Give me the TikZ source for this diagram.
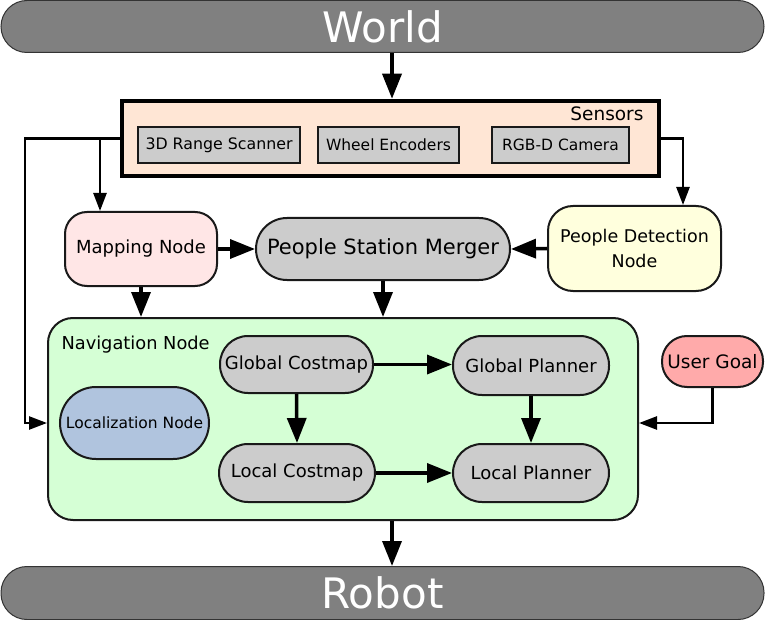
\documentclass[tikz,border=0pt]{standalone}
\usepackage{fontspec}
\setmainfont{DejaVu Sans}
\usetikzlibrary{arrows.meta}
\definecolor{barfill}{HTML}{808080}
\definecolor{sensorfill}{HTML}{FFE6D5}
\definecolor{boxgray}{HTML}{CCCCCC}
\definecolor{mappingfill}{HTML}{FFE6E6}
\definecolor{detectfill}{HTML}{FFFFDD}
\definecolor{navfill}{HTML}{D5FFD5}
\definecolor{locfill}{HTML}{B0C4DE}
\definecolor{goalfill}{HTML}{FFAAAA}
\newcommand{\fsz}[1]{\fontsize{#1}{#1}\selectfont}
\begin{document}
\begin{tikzpicture}[x=1pt,y=-1pt,
    bar/.style={draw=black!80,line width=1pt,fill=barfill,text=white,inner sep=0pt,
        minimum width=763pt,rounded corners=26pt,font=\fsz{42}},
    sensorbox/.style={draw=black!90,line width=2pt,fill=boxgray,inner sep=0pt,minimum height=36pt},
    roundbox/.style={draw=black!90,line width=2pt,inner sep=0pt,align=center},
    pill/.style={roundbox,fill=boxgray,font=\fsz{18}},
    bigarrow/.style={line width=3.5pt,-{Triangle[length=25pt,width=19pt]}},
    thinarrow/.style={line width=2.5pt,-{Triangle[length=18pt,width=13pt]}}]
    \useasboundingbox (0,0) rectangle (765,620);

    \node[bar,minimum height=52pt] (world) at (382.5,26.5) {World};
    \node[bar,minimum height=53pt] (robot) at (382.5,593) {Robot};

    \node[draw=black,line width=4.5pt,fill=sensorfill,inner sep=0pt,
        minimum width=537pt,minimum height=75pt] (sensors) at (390.5,138.5) {};
    \node[anchor=east,font=\fsz{18.5}] (sensorstitle) at (647,114) {Sensors};
    \node[sensorbox,minimum width=162pt,font=\fsz{15.8}] (scanner) at (219,145) {3D Range Scanner};
    \node[sensorbox,minimum width=141pt,font=\fsz{15.5}] (encoders) at (388.5,145) {Wheel Encoders};
    \node[sensorbox,minimum width=137pt,font=\fsz{15.5}] (camera) at (560.5,145) {RGB-D Camera};

    \node[roundbox,fill=mappingfill,rounded corners=22pt,minimum width=152pt,minimum height=74pt,
        font=\fsz{18}] (mapping) at (141,249) {Mapping Node};
    \node[pill,rounded corners=31pt,minimum width=254pt,minimum height=62pt,
        font=\fsz{21}] (merger) at (383,249) {People Station Merger};
    \node[roundbox,fill=detectfill,rounded corners=25pt,minimum width=173pt,minimum height=85pt,
        font=\fsz{17.5}] (detection) at (634.5,248.5) {People Detection\\[7pt]Node};

    \node[roundbox,fill=navfill,rounded corners=25pt,minimum width=590pt,minimum height=202pt] (nav) at (343,419) {};
    \node[anchor=west,font=\fsz{17.8}] (navtitle) at (58,345) {Navigation Node};
    \node[pill,rounded corners=28pt,minimum width=153pt,minimum height=57pt] (gcost) at (296.5,364.5) {Global Costmap};
    \node[pill,rounded corners=29pt,minimum width=156pt,minimum height=59pt] (gplan) at (531,365.5) {Global Planner};
    \node[pill,rounded corners=29pt,minimum width=156pt,minimum height=58pt] (lcost) at (297,473) {Local Costmap};
    \node[pill,rounded corners=29pt,minimum width=156pt,minimum height=58pt] (lplan) at (531,473) {Local Planner};
    \node[roundbox,fill=locfill,rounded corners=36pt,minimum width=149pt,minimum height=72pt,
        font=\fsz{15.5}] (loc) at (134.5,423) {Localization Node};
    \node[roundbox,fill=goalfill,rounded corners=25pt,minimum width=101pt,minimum height=51pt,
        font=\fsz{18.5}] (goal) at (712.5,361.5) {User Goal};

    \coordinate (spine) at (392,0);
    \coordinate (leftbus) at (25,423);
    \coordinate (mapin) at ([xshift=-41pt]mapping.north);
    \coordinate (detin) at ([xshift=48.5pt]detection.north);

    \draw[bigarrow] (world.south -| spine) -- (sensors.north -| spine);
    \draw[thinarrow] (sensors.west) -| (leftbus) -- (leftbus -| nav.west);
    \draw[thinarrow] (sensors.west -| mapin) -- (mapin);
    \draw[thinarrow] (sensors.east) -| (detin);
    \draw[bigarrow] (mapping.east) -- (merger.west);
    \draw[bigarrow] (detection.west) -- (merger.east);
    \draw[bigarrow] (mapping.south) -- (mapping.south |- nav.north);
    \draw[bigarrow] (merger.south) -- (merger.south |- nav.north);
    \draw[bigarrow] (gcost.east) -- (gcost.east -| gplan.west);
    \draw[bigarrow] (gcost.south) -- (lcost.north);
    \draw[bigarrow] (gplan.south) -- (lplan.north);
    \draw[bigarrow] (lcost.east) -- (lplan.west);
    \draw[thinarrow] (goal.south) |- (leftbus -| nav.east);
    \draw[bigarrow] (nav.south -| spine) -- (robot.north -| spine);
\end{tikzpicture}
\end{document}
